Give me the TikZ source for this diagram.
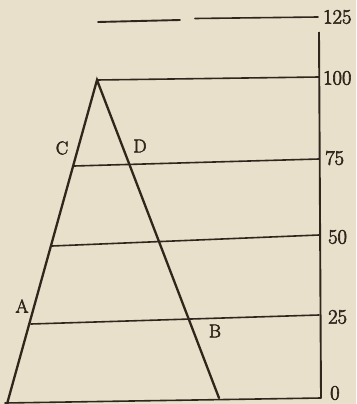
\documentclass[tikz,border=0pt]{standalone}
\usepackage{fontspec}
\newfontfamily\lblfont{Latin Modern Roman}[FakeBold=3]
\definecolor{paper}{RGB}{232,224,203}
\definecolor{ink}{RGB}{48,38,28}
\tikzset{
  side/.style={draw=ink, line width=2.3pt, line cap=round},
  level/.style={draw=ink, line width=1.6pt, line cap=round},
  axis/.style={draw=ink, line width=1.9pt},
  num/.style={text=ink, inner sep=0pt, anchor=west, font=\lblfont\fontsize{20.5}{22}\selectfont},
  letter/.style={text=ink, inner sep=0pt, font=\lblfont\fontsize{18.5}{22}\selectfont}
}
\begin{document}
\begin{tikzpicture}[x=1pt,y=-1pt]
\fill[paper] (0,0) rectangle (356,404);
\useasboundingbox (0,0) rectangle (356,404);
% points
\coordinate (apex) at (97,80);
\coordinate (bl) at (7,404);
\coordinate (br) at (219,398);
\coordinate (t125a) at (98,22);
\coordinate (t125b) at (180,20);
\coordinate (t125c) at (195,18.5);
\coordinate (t125d) at (318,17);
\coordinate (axtop) at (319,32);
\coordinate (axbot) at (321,398);
\coordinate (r100) at (319,77);
\coordinate (l75) at (74,166);
\coordinate (r75) at (319,159);
\coordinate (l50) at (52,246);
\coordinate (r50) at (319,235);
\coordinate (l25) at (31,324);
\coordinate (r25) at (319,315);
\coordinate (l0) at (5,403);
\coordinate (r0) at (321,398);
% lines
\draw[level, line width=1.9pt] (t125a) -- (t125b);
\draw[level] (t125c) -- (t125d);
\draw[axis] (axtop) -- (axbot);
\draw[level] (apex) -- (r100);
\draw[level] (l75) -- (r75);
\draw[level] (l50) -- (r50);
\draw[level] (l25) -- (r25);
\draw[level] (l0) -- (r0);
\draw[side] (bl) -- (apex) -- (br);
% scale labels
\node[num] (n125) at (323,17) {125};
\node[num] (n100) at (323,78) {100};
\node[num] (n75) at (325,158) {75};
\node[num] (n50) at (328,237) {50};
\node[num] (n25) at (328,317) {25};
\node[num] (n0) at (330,393) {0};
% letters
\node[letter] (C) at (62,148) {C};
\node[letter] (D) at (140,146) {D};
\node[letter] (A) at (22,306) {A};
\node[letter] (B) at (215,331) {B};
\end{tikzpicture}
\end{document}
